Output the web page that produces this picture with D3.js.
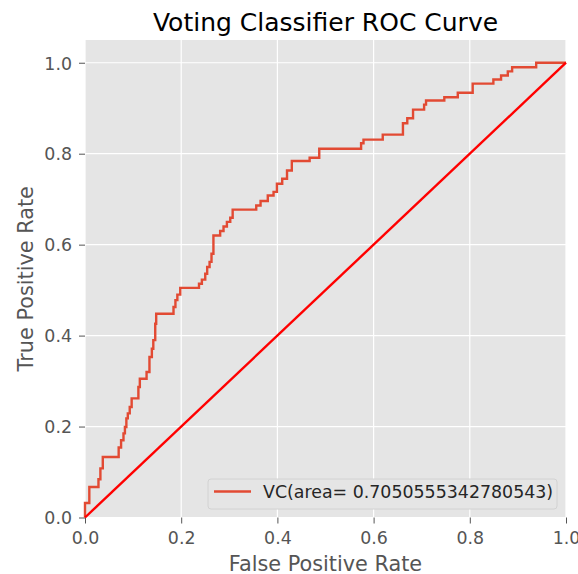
<!DOCTYPE html>
<html>
<head>
<meta charset="utf-8">
<script src="https://cdn.jsdelivr.net/npm/d3@7"></script>
<style>
  html, body { margin: 0; padding: 0; background: #ffffff; }
  svg { display: block; font-family: "DejaVu Sans", sans-serif; }
</style>
</head>
<body>
<svg id="chart" width="578" height="574"></svg>
<script>
// ---- data ----
const fpr = [0, 0, 0.009, 0.009, 0.028, 0.028, 0.032, 0.032, 0.037, 0.037, 0.070, 0.070, 0.075, 0.075, 0.080, 0.080,
  0.083, 0.083, 0.086, 0.086, 0.089, 0.089, 0.093, 0.093, 0.097, 0.097, 0.111, 0.111, 0.114, 0.114, 0.128, 0.128,
  0.134, 0.134, 0.139, 0.139, 0.142, 0.142, 0.146, 0.146, 0.148, 0.148, 0.184, 0.184, 0.188, 0.188, 0.192, 0.192,
  0.198, 0.198, 0.237, 0.237, 0.243, 0.243, 0.250, 0.250, 0.254, 0.254, 0.259, 0.259, 0.263, 0.263, 0.267, 0.267,
  0.281, 0.281, 0.288, 0.288, 0.295, 0.295, 0.302, 0.302, 0.307, 0.307, 0.356, 0.356, 0.365, 0.365, 0.380, 0.380,
  0.392, 0.392, 0.399, 0.399, 0.410, 0.410, 0.420, 0.420, 0.430, 0.430, 0.467, 0.467, 0.487, 0.487, 0.574, 0.574,
  0.579, 0.579, 0.619, 0.619, 0.661, 0.661, 0.670, 0.670, 0.682, 0.682, 0.705, 0.705, 0.709, 0.709, 0.747, 0.747,
  0.775, 0.775, 0.806, 0.806, 0.849, 0.849, 0.865, 0.865, 0.879, 0.879, 0.888, 0.888, 0.938, 0.938, 1.0];
const tpr = [0, 0.032, 0.032, 0.067, 0.067, 0.084, 0.084, 0.108, 0.108, 0.133, 0.133, 0.154, 0.154, 0.170, 0.170, 0.185,
  0.185, 0.199, 0.199, 0.218, 0.218, 0.229, 0.229, 0.243, 0.243, 0.262, 0.262, 0.287, 0.287, 0.305, 0.305, 0.320,
  0.320, 0.353, 0.353, 0.371, 0.371, 0.390, 0.390, 0.426, 0.426, 0.448, 0.448, 0.463, 0.463, 0.478, 0.478, 0.490,
  0.490, 0.505, 0.505, 0.514, 0.514, 0.523, 0.523, 0.536, 0.536, 0.551, 0.551, 0.562, 0.562, 0.580, 0.580, 0.620,
  0.620, 0.630, 0.630, 0.640, 0.640, 0.650, 0.650, 0.659, 0.659, 0.677, 0.677, 0.686, 0.686, 0.696, 0.696, 0.708,
  0.708, 0.716, 0.716, 0.734, 0.734, 0.745, 0.745, 0.763, 0.763, 0.784, 0.784, 0.791, 0.791, 0.811, 0.811, 0.823,
  0.823, 0.831, 0.831, 0.842, 0.842, 0.867, 0.867, 0.878, 0.878, 0.897, 0.897, 0.908, 0.908, 0.917, 0.917, 0.924,
  0.924, 0.934, 0.934, 0.954, 0.954, 0.963, 0.963, 0.972, 0.972, 0.981, 0.981, 0.990, 0.990, 1.0, 1.0];
const diagX = [0, 1];
const diagY = [0, 1];
const xTicks = [0, 0.2, 0.4, 0.6, 0.8, 1.0];
const yTicks = [0, 0.2, 0.4, 0.6, 0.8, 1.0];
const title = "Voting Classifier ROC Curve";
const xLabel = "False Positive Rate";
const yLabel = "True Positive Rate";
const legendLabel = "VC(area= 0.7050555342780543)";

(function () {
// ---- layout ----
const svg = d3.select("#chart");
const pL = 85, pR = 566, pT = 40, pB = 517.5;
const x = d3.scaleLinear().domain([0, 1]).range([pL, pR]);
const y = d3.scaleLinear().domain([0, 1.05]).range([pB, pT]);

svg.append("rect").attr("x", pL).attr("y", pT)
  .attr("width", pR - pL).attr("height", pB - pT).attr("fill", "#E5E5E5");

// grid
const grid = svg.append("g");
grid.selectAll(".gx").data(xTicks).join("line")
  .attr("x1", d => x(d)).attr("x2", d => x(d)).attr("y1", pT).attr("y2", pB)
  .attr("stroke", "#ffffff").attr("stroke-width", 1.2);
grid.selectAll(".gy").data(yTicks).join("line")
  .attr("y1", d => y(d)).attr("y2", d => y(d)).attr("x1", pL).attr("x2", pR)
  .attr("stroke", "#ffffff").attr("stroke-width", 1.2);

// axes
const fmt = d3.format(".1f");
const xAxis = svg.append("g").attr("transform", `translate(0,${pB})`)
  .call(d3.axisBottom(x).tickValues(xTicks).tickFormat(fmt).tickSize(6).tickPadding(8));
const yAxis = svg.append("g").attr("transform", `translate(${pL},0)`)
  .call(d3.axisLeft(y).tickValues(yTicks).tickFormat(fmt).tickSize(6).tickPadding(7));
[xAxis, yAxis].forEach(a => {
  a.select(".domain").remove();
  a.selectAll(".tick line").attr("stroke", "#555555").attr("stroke-width", 1);
  a.selectAll(".tick text").attr("fill", "#555555").style("font-size", "17.4px")
    .style("font-family", "DejaVu Sans");
});
yAxis.selectAll(".tick text").attr("dy", "0.36em");

// lines
svg.append("clipPath").attr("id", "plotclip").append("rect")
  .attr("x", pL - 2).attr("y", pT).attr("width", pR - pL + 4).attr("height", pB - pT + 2);

svg.append("path")
  .datum(fpr.map((f, i) => [f, tpr[i]]))
  .attr("d", d3.line().x(d => x(d[0])).y(d => y(d[1])))
  .attr("fill", "none").attr("stroke", "#E24A33").attr("stroke-width", 2.4)
  .attr("stroke-linejoin", "miter").attr("clip-path", "url(#plotclip)");

svg.append("path")
  .datum(diagX.map((f, i) => [f, diagY[i]]))
  .attr("d", d3.line().x(d => x(d[0])).y(d => y(d[1])))
  .attr("fill", "none").attr("stroke", "#ff0000").attr("stroke-width", 2.4)
  .attr("clip-path", "url(#plotclip)");

// legend
const lg = svg.append("g");
lg.append("rect").attr("x", 208).attr("y", 479).attr("width", 349).attr("height", 30)
  .attr("rx", 3).attr("fill", "#E5E5E5").attr("stroke", "#d2d2d2").attr("stroke-width", 1);
lg.append("line").attr("x1", 214).attr("x2", 251).attr("y1", 491.5).attr("y2", 491.5)
  .attr("stroke", "#E24A33").attr("stroke-width", 2.4);
lg.append("text").attr("x", 263).attr("y", 498).text(legendLabel)
  .attr("fill", "#262626").style("font-size", "17.4px");

// title & labels
svg.append("text").attr("x", (pL + pR) / 2).attr("y", 31).attr("text-anchor", "middle")
  .text(title).attr("fill", "#000000").style("font-size", "25px");
svg.append("text").attr("x", (pL + pR) / 2).attr("y", 570.5).attr("text-anchor", "middle")
  .text(xLabel).attr("fill", "#555555").style("font-size", "20.8px");
svg.append("text").attr("transform", `translate(33,${(pT + pB) / 2}) rotate(-90)`)
  .attr("text-anchor", "middle").text(yLabel).attr("fill", "#555555").style("font-size", "20.8px");
})();
</script>
</body>
</html>
